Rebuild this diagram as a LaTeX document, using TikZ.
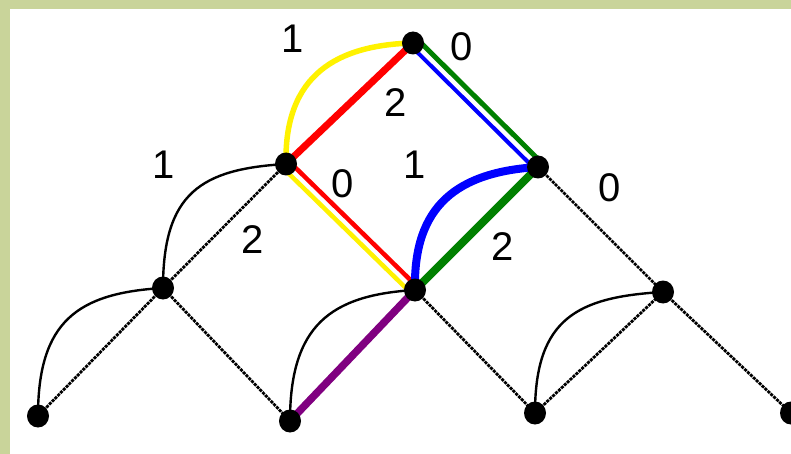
\documentclass[tikz,border=0pt]{standalone}
\usepackage{fontspec}
\setmainfont{Liberation Sans}
\usetikzlibrary{backgrounds,shapes.geometric}
\definecolor{olivebg}{RGB}{201,212,154}
\definecolor{mygreen}{RGB}{0,128,0}
\definecolor{mypurple}{RGB}{128,0,128}
\begin{document}
\begin{tikzpicture}[x=1pt,y=-1pt,
  dot/.style={ellipse,fill=black,minimum width=22pt,minimum height=23pt,inner sep=0pt},
  lat/.style={black,line width=2.8pt,dash pattern=on 3pt off 1pt},
  arc/.style={black,line width=2.4pt},
  lbl/.style={font=\fontsize{40}{40}\selectfont,inner sep=0pt}]
\useasboundingbox (0,0) rectangle (791,454);
% nodes
\node[dot] (A) at (413,43) {};
\node[dot] (B) at (286,164) {};
\node[dot] (C) at (538,167) {};
\node[dot] (D) at (163,288) {};
\node[dot] (E) at (415,290) {};
\node[dot] (F) at (663,292) {};
\node[dot] (G) at (38,416) {};
\node[dot] (H) at (290,421) {};
\node[dot] (I) at (535,413) {};
\node[dot] (J) at (791,413) {};
% labels
\node[lbl] (t1) at (293,39) {1};
\node[lbl] (t2) at (462,47) {0};
\node[lbl] (t3) at (396,103) {2};
\node[lbl] (t4) at (343,184) {0};
\node[lbl] (t5) at (415,165) {1};
\node[lbl] (t6) at (503,247) {2};
\node[lbl] (t7) at (164,165) {1};
\node[lbl] (t8) at (253,240) {2};
\node[lbl] (t9) at (610,188) {0};
\begin{scope}[on background layer]
  \fill[olivebg] (0,0) rectangle (791,454);
  \fill[white] (10,9) rectangle (791,454);
  % lattice edges
  \draw[lat] (G.center) -- (D.center);
  \draw[lat] (D.center) -- (H.center);
  \draw[lat] (D.center) -- (B.center);
  \draw[lat] (E.center) -- (I.center);
  \draw[lat] (I.center) -- (F.center);
  \draw[lat] (C.center) -- (F.center);
  \draw[lat] (F.center) -- (J.center);
  % black curves
  \draw[arc] (G.center) .. controls +(0,-95) and +(-85,5) .. (D.center);
  \draw[arc] (D.center) .. controls +(0,-95) and +(-85,5) .. (B.center);
  \draw[arc] (H.center) .. controls +(0,-95) and +(-85,5) .. (E.center);
  \draw[arc] (I.center) .. controls +(0,-95) and +(-85,5) .. (F.center);
  % coloured edges
  \draw[red,line width=7pt] (B.center) -- (A.center);
  \draw[yellow,line width=5.5pt] (B.center) .. controls +(-2,-90) and +(-75,2) .. (A.center);
  \draw[mygreen,line width=5pt] ([shift={(4,-4)}]A.center) -- ([shift={(4,-4)}]C.center);
  \draw[blue,line width=4pt] ([shift={(-2.5,2.5)}]A.center) -- ([shift={(-2.5,2.5)}]C.center);
  \draw[red,line width=4.5pt] ([shift={(2.8,-2.8)}]B.center) -- ([shift={(2.8,-2.8)}]E.center);
  \draw[yellow,line width=4.5pt] ([shift={(-3.5,3.5)}]B.center) -- ([shift={(-3.5,3.5)}]E.center);
  \draw[mygreen,line width=8pt] (E.center) -- (C.center);
  \draw[blue,line width=8pt] (E.center) .. controls +(-2,-85) and +(-80,5) .. (C.center);
  \draw[mypurple,line width=7.5pt] (H.center) -- (E.center);
\end{scope}
\end{tikzpicture}
\end{document}
